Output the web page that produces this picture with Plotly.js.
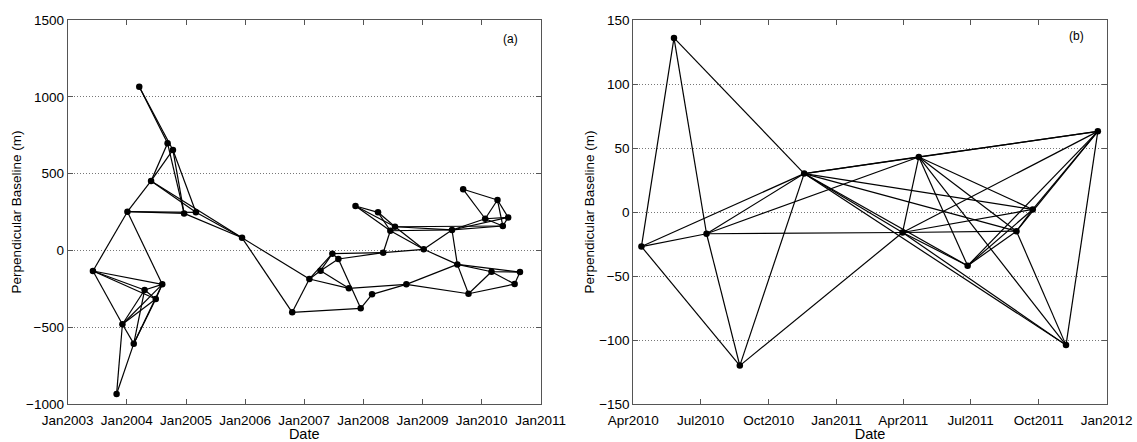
<!DOCTYPE html>
<html>
<head>
<meta charset="utf-8">
<script src="https://cdn.plot.ly/plotly-3.0.1.min.js"></script>
<style>
html,body{margin:0;padding:0;background:#fff;}
#chart{width:1137px;height:442px;}
</style>
</head>
<body>
<div id="chart"></div>
<script>
// ---- Panel (a): acquisition dates and perpendicular baselines (m) ----
const leftDates = [
  '2004-03-18','2004-09-09','2004-10-12','2004-05-30','2004-01-05','2004-12-20','2005-03-03',
  '2003-06-06','2004-08-07','2004-04-20','2004-06-28','2003-12-05','2004-02-13','2003-10-30',
  '2005-12-13','2006-10-19','2007-02-02','2007-04-12','2007-06-24','2007-07-31','2007-10-04',
  '2007-12-16','2008-02-24','2007-11-14','2008-04-01','2008-06-16','2008-07-15','2008-05-03',
  '2008-09-23','2009-07-02','2009-01-08','2009-08-04','2009-10-12','2010-03-03','2010-08-26',
  '2010-07-24','2009-09-09','2010-04-09','2010-01-23','2010-06-14','2010-05-12'
];
const leftBaselines = [
  1065, 697, 654, 452, 252, 241, 248,
  -134, -221, -258, -316, -481, -607, -935,
  82, -403, -186, -132, -21, -56, -247,
  -377, -286, 289, 248, 128, 154, -15,
  -221, 133, 7, -91, -282, -139, -141,
  -219, 398, 328, 206, 215, 159
];
const leftPairs = [
  [0,1],[0,2],[1,3],[2,3],[1,5],[2,5],[2,6],[3,4],[3,6],[3,14],[5,14],[6,14],[4,5],[4,6],[4,7],[4,8],
  [7,8],[7,9],[7,10],[7,11],[11,9],[11,10],[11,8],[12,9],[12,10],[12,8],[11,12],[13,11],[13,12],[9,10],[9,8],[10,8],
  [14,15],[14,16],[15,16],[15,21],[16,17],[16,18],[16,20],[17,18],[17,19],[17,20],[18,27],[19,27],[18,19],[19,21],
  [20,28],[21,22],[22,28],
  [23,24],[23,25],[23,26],[24,25],[24,26],[25,27],[25,30],[26,30],[26,29],[25,29],[27,30],
  [29,30],[30,31],[29,31],[28,31],[28,32],[31,32],[31,34],[31,33],[32,33],[32,35],[33,34],[33,35],[34,35],
  [29,38],[29,39],[29,40],[36,37],[36,38],[37,38],[37,39],[37,40],[38,39],[38,40],[39,40],[26,40]
];

// ---- Panel (b) ----
const rightDates = [
  '2010-05-26','2010-11-18','2010-04-12','2010-07-09','2010-08-23','2011-04-22',
  '2011-12-20','2011-09-23','2011-03-31','2011-09-01','2011-06-27','2011-11-07'
];
const rightBaselines = [136, 30, -27, -17, -120, 43, 63, 2, -16, -15, -42, -104];
const rightPairs = [
  [0,2],[0,3],[0,1],
  [2,3],[2,4],[2,1],
  [3,4],[3,1],[3,5],[3,8],
  [4,1],[4,8],
  [1,5],[1,6],[1,7],[1,8],[1,9],[1,10],[1,11],
  [5,6],[5,8],[5,10],[5,11],[5,7],[5,9],
  [8,6],[8,7],[8,9],[8,10],[8,11],
  [6,9],[6,10],[6,11],[6,7],
  [7,9],[7,10],
  [9,11],[9,10]
];

const xRangeLeft = ['2003-01-01','2011-01-01'];
const xRangeRight = ['2010-04-01','2012-01-01'];

function edgeTrace(dates, vals, pairs, xa, ya){
  const x = [], y = [];
  pairs.forEach(p => {
    x.push(dates[p[0]], dates[p[1]], null);
    y.push(vals[p[0]], vals[p[1]], null);
  });
  return {x, y, xaxis:xa, yaxis:ya, type:'scatter', mode:'lines',
          line:{color:'#000', width:1.2}, hoverinfo:'skip', showlegend:false};
}
function nodeTrace(dates, vals, xa, ya){
  return {x:dates, y:vals, xaxis:xa, yaxis:ya, type:'scatter', mode:'markers',
          marker:{color:'#000', size:6.5}, showlegend:false};
}

const traces = [
  edgeTrace(leftDates, leftBaselines, leftPairs, 'x', 'y'),
  nodeTrace(leftDates, leftBaselines, 'x', 'y'),
  edgeTrace(rightDates, rightBaselines, rightPairs, 'x2', 'y2'),
  nodeTrace(rightDates, rightBaselines, 'x2', 'y2')
];

const fam = 'Liberation Sans, Arial, Helvetica, sans-serif';
const tickFont = {family:fam, size:13.5, color:'#000'};
const yTitleFont = {family:fam, size:13.5, color:'#000'};
const xTitleFont = {family:fam, size:14.5, color:'#000'};
const axCommon = {
  showline:true, linecolor:'#555', linewidth:1, mirror:'ticks',
  ticks:'inside', ticklen:5, tickcolor:'#555', zeroline:false,
  tickfont:tickFont, automargin:false
};
const yDom = [1-404/442, 1-20/442];

const layout = {
  width:1137, height:442,
  margin:{l:0, r:0, t:0, b:0},
  paper_bgcolor:'#fff', plot_bgcolor:'#fff',
  font:tickFont,
  showlegend:false,
  xaxis: Object.assign({}, axCommon, {
    domain:[67.7/1137, 540.7/1137], type:'date', range:xRangeLeft,
    tick0:'2003-01-01', dtick:'M12', tickformat:'%b%Y', showgrid:false, ticklabelstandoff:4,
    title:{text:'Date', font:xTitleFont, standoff:0}, anchor:'y'
  }),
  yaxis: Object.assign({}, axCommon, {
    domain:yDom, range:[-1000,1500], dtick:500, tick0:0,
    showgrid:true, gridcolor:'#777', griddash:'1px,2px', gridwidth:1,
    title:{text:'Perpendicular Baseline (m)', font:yTitleFont, standoff:1}, anchor:'x'
  }),
  xaxis2: Object.assign({}, axCommon, {
    domain:[633.3/1137, 1106.7/1137], type:'date', range:xRangeRight,
    tick0:'2010-04-01', dtick:'M3', tickformat:'%b%Y', showgrid:false, ticklabelstandoff:4,
    title:{text:'Date', font:xTitleFont, standoff:0}, anchor:'y2'
  }),
  yaxis2: Object.assign({}, axCommon, {
    domain:yDom, range:[-150,150], dtick:50, tick0:0,
    showgrid:true, gridcolor:'#777', griddash:'1px,2px', gridwidth:1,
    title:{text:'Perpendicular Baseline (m)', font:yTitleFont, standoff:1}, anchor:'x2'
  }),
  annotations:[
    {text:'(a)', xref:'paper', yref:'paper', x:510.7/1137, y:1-39/442, showarrow:false,
     font:{family:fam, size:12, color:'#000'}, xanchor:'center', yanchor:'middle'},
    {text:'(b)', xref:'paper', yref:'paper', x:1076.7/1137, y:1-36/442, showarrow:false,
     font:{family:fam, size:12, color:'#000'}, xanchor:'center', yanchor:'middle'}
  ]
};

Plotly.newPlot('chart', traces, layout, {staticPlot:true, displayModeBar:false});
</script>
</body>
</html>
